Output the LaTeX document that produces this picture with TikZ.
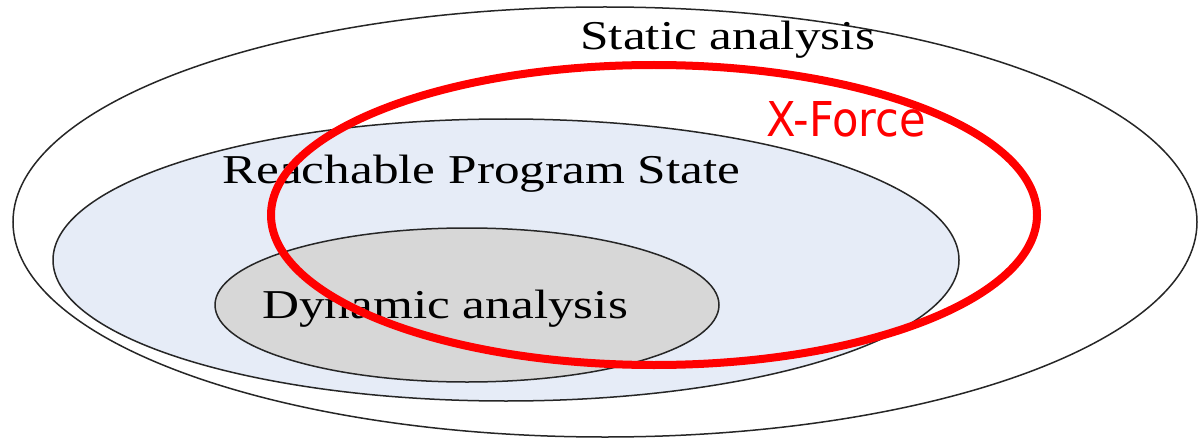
\documentclass[tikz,border=0pt]{standalone}
\usepackage{fontspec}
\setmainfont{Liberation Serif}
\newfontfamily\xfont{DejaVu Sans}
\definecolor{reachblue}{HTML}{E6ECF7}
\definecolor{dyngray}{HTML}{D7D7D7}
\definecolor{xred}{HTML}{FF0000}
\tikzset{
  setline/.style={draw=black!85, line width=1.5pt},
  setlabel/.style={anchor=base west, inner sep=0pt, xscale=1.25, font=\fontsize{41}{41}\selectfont},
  xlabel/.style={anchor=base west, inner sep=0pt, xscale=0.9, text=xred, font=\xfont\fontsize{48}{48}\selectfont}
}
\begin{document}
\begin{tikzpicture}[x=1pt,y=-1pt]
\useasboundingbox (0,0) rectangle (1199,441);
% Static analysis
\draw[setline, fill=white] (605,222) ellipse [x radius=592, y radius=215];
% Reachable program state
\draw[setline, fill=reachblue] (506,260) ellipse [x radius=453, y radius=141];
% Dynamic analysis
\draw[setline, fill=dyngray] (467,305) ellipse [x radius=252, y radius=77];
\node[setlabel] (static) at (580,50) {Static analysis};
\node[setlabel] (reach) at (222,183) {Reachable Program State};
\node[setlabel] (dyn) at (262,318) {Dynamic analysis};
% X-Force
\draw[xred, line width=8pt] (654,215) ellipse [x radius=383, y radius=150];
\node[xlabel] (xforce) at (766,137) {X-Force};
\end{tikzpicture}
\end{document}
